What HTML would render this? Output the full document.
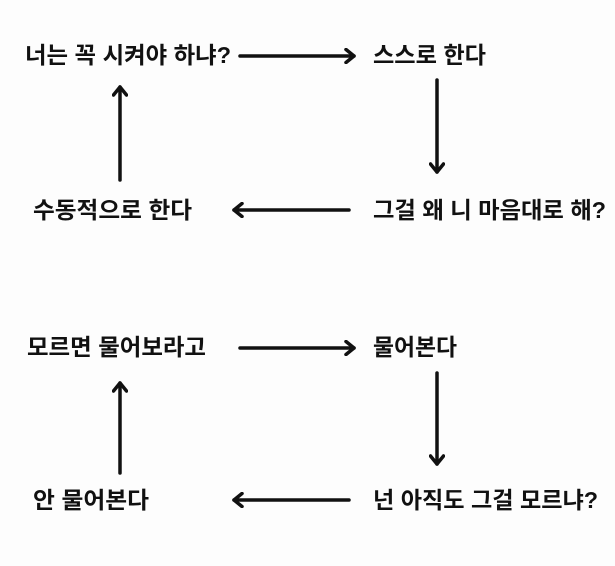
<!DOCTYPE html>
<html><head><meta charset="utf-8"><style>
html,body{margin:0;padding:0;background:#fdfdfd;}
svg{display:block}
text{font-family:"Liberation Sans","Noto Sans CJK KR","NanumGothic",sans-serif;font-weight:bold;font-size:23px;fill:#111;}
</style></head><body>
<svg width="615" height="566" viewBox="0 0 615 566" xmlns="http://www.w3.org/2000/svg">
<defs>
<marker id="a" markerWidth="12" markerHeight="16" refX="10" refY="8" orient="auto" markerUnits="userSpaceOnUse">
<path d="M2,1.5 L10,8 L2,14.5" fill="none" stroke="#111" stroke-width="3.5" stroke-linecap="round" stroke-linejoin="round"/>
</marker>
</defs>
<g stroke="#111" stroke-width="3.5" fill="none" stroke-linecap="round" marker-end="url(#a)">
<line x1="240" y1="56" x2="354" y2="56"/>
<line x1="437" y1="80" x2="437" y2="172"/>
<line x1="349" y1="210" x2="234" y2="210"/>
<line x1="120" y1="180" x2="120" y2="87"/>
<line x1="240" y1="348" x2="354" y2="348"/>
<line x1="437" y1="373" x2="437" y2="464"/>
<line x1="349" y1="500" x2="234" y2="500"/>
<line x1="120" y1="473" x2="120" y2="383"/>
</g>
<text x="25" y="63" textLength="206" lengthAdjust="spacingAndGlyphs">너는 꼭 시켜야 하냐?</text>
<text x="373" y="63" textLength="113" lengthAdjust="spacingAndGlyphs">스스로 한다</text>
<text x="33" y="218" textLength="159" lengthAdjust="spacingAndGlyphs">수동적으로 한다</text>
<text x="373" y="218" textLength="233" lengthAdjust="spacingAndGlyphs">그걸 왜 니 마음대로 해?</text>
<text x="27" y="355" textLength="179" lengthAdjust="spacingAndGlyphs">모르면 물어보라고</text>
<text x="373" y="355" textLength="84" lengthAdjust="spacingAndGlyphs">물어본다</text>
<text x="33" y="508" textLength="116" lengthAdjust="spacingAndGlyphs">안 물어본다</text>
<text x="373" y="508" textLength="225" lengthAdjust="spacingAndGlyphs">넌 아직도 그걸 모르냐?</text>
</svg>
</body></html>
